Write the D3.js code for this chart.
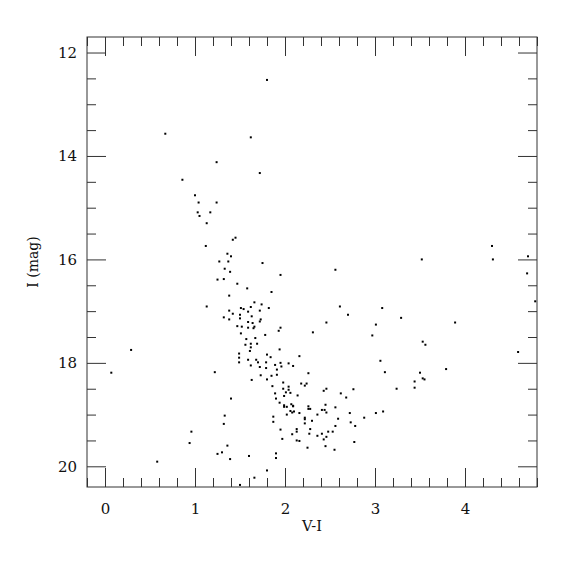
<!DOCTYPE html>
<html>
<head>
<meta charset="utf-8">
<script src="https://cdn.jsdelivr.net/npm/d3@7"></script>
<style>
  body { margin: 0; background: #fff; }
  text { font-family: "DejaVu Serif", "Liberation Serif", serif; fill: #111; }
</style>
</head>
<body>
<svg width="575" height="575"></svg>
<script>
// colour index V-I and I magnitude for each star
const vi = [
  1.80, 0.67, 1.62, 1.24, 1.72, 0.86, 1.00, 1.04, 1.24, 1.03, 1.17, 1.05, 1.13, 1.45, 1.42, 1.12, 1.36, 1.40,
  4.30, 4.70, 3.52, 4.31, 2.56, 4.69, 4.78, 2.61, 3.08, 2.70, 3.29, 2.46, 3.01, 3.89, 2.31, 2.97, 3.53, 3.56,
  4.59, 2.16, 3.06, 3.11, 2.26, 3.50, 3.79, 3.44, 3.53, 3.55, 2.18, 2.24, 2.22, 2.43, 2.46, 2.62, 2.68, 2.76,
  3.24, 3.44, 2.26, 2.26, 2.28, 2.45, 2.41, 2.44, 2.46, 2.56, 2.72, 2.16, 2.22, 2.22, 2.30, 2.36, 2.22, 2.59,
  2.73, 2.88, 3.01, 3.09, 2.78, 2.56, 2.28, 2.53, 2.48, 2.27, 2.36, 2.41, 2.46, 2.43, 2.16, 2.45, 2.25, 2.55,
  2.77,
  1.27, 1.37, 1.75, 1.33, 1.39, 1.95, 1.25, 1.32, 1.47, 1.58, 1.38, 1.85, 1.13, 1.66, 1.74, 1.51, 1.54, 1.62,
  1.82, 1.38, 1.59, 1.72, 1.42, 1.50, 1.63, 1.32, 1.38, 1.50, 1.73, 1.59, 1.72, 1.64, 1.47, 1.52, 1.59, 1.66,
  1.65, 1.95, 1.93, 1.51, 1.78, 1.57, 1.67, 1.62, 1.69, 1.56, 1.62, 1.61, 1.94, 1.49, 1.80, 1.84, 1.49, 1.59,
  1.68, 1.70, 1.49, 1.79, 1.95, 1.96, 1.89, 2.04, 2.09, 1.62, 1.72, 1.79, 1.91, 0.07, 1.22, 1.73, 1.85, 1.91,
  1.63, 1.80, 1.98, 1.86, 2.04, 1.98, 2.04, 1.89, 2.01, 2.06, 1.99, 1.90, 2.14, 1.40, 1.94, 1.99, 2.07, 2.09,
  1.99, 2.02, 2.09, 2.06, 2.08, 2.10, 2.02, 1.33, 1.87, 1.87, 1.32, 1.95, 2.08, 2.13, 2.13, 0.96, 0.94, 1.97,
  2.13, 1.36, 1.25, 1.30, 1.39, 1.60, 1.90, 1.90, 0.29, 0.58, 1.80, 1.66, 1.50
];
const imag = [
  12.53, 13.57, 13.64, 14.12, 14.33, 14.46, 14.76, 14.90, 14.90, 15.09, 15.09, 15.16, 15.30, 15.58, 15.62, 15.74, 15.89, 15.94,
  15.74, 15.94, 16.00, 16.00, 16.20, 16.27, 16.81, 16.91, 16.94, 17.07, 17.13, 17.22, 17.26, 17.22, 17.41, 17.47, 17.59, 17.65,
  17.79, 17.87, 17.96, 18.18, 18.20, 18.19, 18.12, 18.36, 18.30, 18.32, 18.40, 18.40, 18.44, 18.54, 18.50, 18.59, 18.67, 18.51,
  18.50, 18.48, 18.84, 18.89, 18.89, 18.81, 18.91, 18.91, 18.96, 18.86, 18.97, 18.97, 19.06, 19.09, 19.12, 19.00, 19.17, 19.08,
  19.15, 19.06, 18.97, 18.94, 19.22, 19.22, 19.28, 19.33, 19.33, 19.37, 19.41, 19.37, 19.43, 19.48, 19.51, 19.61, 19.64, 19.68,
  19.53,
  16.04, 16.04, 16.07, 16.18, 16.24, 16.30, 16.39, 16.38, 16.47, 16.56, 16.70, 16.63, 16.91, 16.83, 16.87, 16.94, 16.96, 16.92,
  16.94, 16.99, 17.01, 16.99, 17.05, 17.07, 17.10, 17.12, 17.16, 17.14, 17.16, 17.21, 17.20, 17.23, 17.29, 17.30, 17.32, 17.30,
  17.33, 17.32, 17.38, 17.43, 17.46, 17.54, 17.52, 17.63, 17.63, 17.65, 17.70, 17.77, 17.74, 17.82, 17.84, 17.89, 17.90, 17.94,
  17.94, 17.99, 17.99, 17.99, 18.00, 18.07, 18.04, 18.01, 18.06, 18.05, 18.08, 18.10, 18.13, 18.19, 18.18, 18.24, 18.25, 18.23,
  18.33, 18.32, 18.38, 18.45, 18.46, 18.50, 18.52, 18.59, 18.57, 18.58, 18.64, 18.69, 18.63, 18.69, 18.77, 18.82, 18.80, 18.83,
  18.85, 18.85, 18.84, 18.93, 18.96, 18.94, 19.00, 19.02, 19.04, 19.14, 19.18, 19.29, 19.38, 19.28, 19.33, 19.33, 19.55, 19.47,
  19.50, 19.60, 19.76, 19.73, 19.86, 19.80, 19.75, 19.84, 17.75, 19.91, 20.08, 20.22, 20.36
];
const xMajor = [0, 1, 2, 3, 4];
const yMajor = [12, 14, 16, 18, 20];

const svg = d3.select('svg');
const margin = {left: 87, top: 37, right: 38, bottom: 88};
const width = +svg.attr('width');
const height = +svg.attr('height');
const innerWidth = width - margin.left - margin.right;
const innerHeight = height - margin.top - margin.bottom;

const xScale = d3.scaleLinear().domain([-0.2, 4.8]).range([0, innerWidth]);
const yScale = d3.scaleLinear().domain([11.7, 20.4]).range([0, innerHeight]);

const xMinor = d3.range(-0.2, 4.81, 0.2).map(v => +v.toFixed(1)).filter(v => !xMajor.includes(v));
const yMinor = d3.range(12, 20.41, 0.5).filter(v => !yMajor.includes(v));

const g = svg.append('g')
    .attr('transform', `translate(${margin.left},${margin.top})`);

// ticks pointing inward on all four sides
const addAxis = (axisFn, scale, values, size, labels, pad, transform) => {
    const a = g.append('g').attr('transform', transform)
        .call(axisFn(scale).tickValues(values).tickSize(-size).tickPadding(pad)
            .tickFormat(d3.format('d')));
    a.select('.domain').remove();
    a.selectAll('line').attr('stroke', '#333');
    if (labels) a.selectAll('text').style('font-size', '15px').attr('fill', '#111');
    else a.selectAll('text').remove();
    return a;
};
addAxis(d3.axisBottom, xScale, xMinor, 9, false, 0, `translate(0,${innerHeight})`);
addAxis(d3.axisBottom, xScale, xMajor, 19, true, 16, `translate(0,${innerHeight})`);
addAxis(d3.axisTop, xScale, xMinor, 9, false, 0, 'translate(0,0)');
addAxis(d3.axisTop, xScale, xMajor, 19, false, 0, 'translate(0,0)');
addAxis(d3.axisLeft, yScale, yMinor, 9, false, 0, 'translate(0,0)');
addAxis(d3.axisLeft, yScale, yMajor, 19, true, 10, 'translate(0,0)');
addAxis(d3.axisRight, yScale, yMinor, 9, false, 0, `translate(${innerWidth},0)`);
addAxis(d3.axisRight, yScale, yMajor, 19, false, 0, `translate(${innerWidth},0)`);

g.append('rect')
    .attr('width', innerWidth).attr('height', innerHeight)
    .attr('fill', 'none').attr('stroke', '#333').attr('stroke-width', 1);

g.selectAll('rect.star').data(vi.map((v, i) => ({vi: v, mag: imag[i]})))
    .enter().append('rect')
    .attr('class', 'star')
    .attr('x', d => xScale(d.vi) - 1)
    .attr('y', d => yScale(d.mag) - 1)
    .attr('width', 2).attr('height', 2)
    .attr('fill', '#000');

svg.append('text')
    .attr('x', margin.left + innerWidth / 2).attr('y', 531)
    .attr('text-anchor', 'middle')
    .style('font-size', '14.5px')
    .text('V-I');
svg.append('text')
    .attr('transform', `translate(38,${margin.top + innerHeight / 2}) rotate(-90)`)
    .attr('text-anchor', 'middle')
    .style('font-size', '14px')
    .text('I (mag)');
</script>
</body>
</html>
